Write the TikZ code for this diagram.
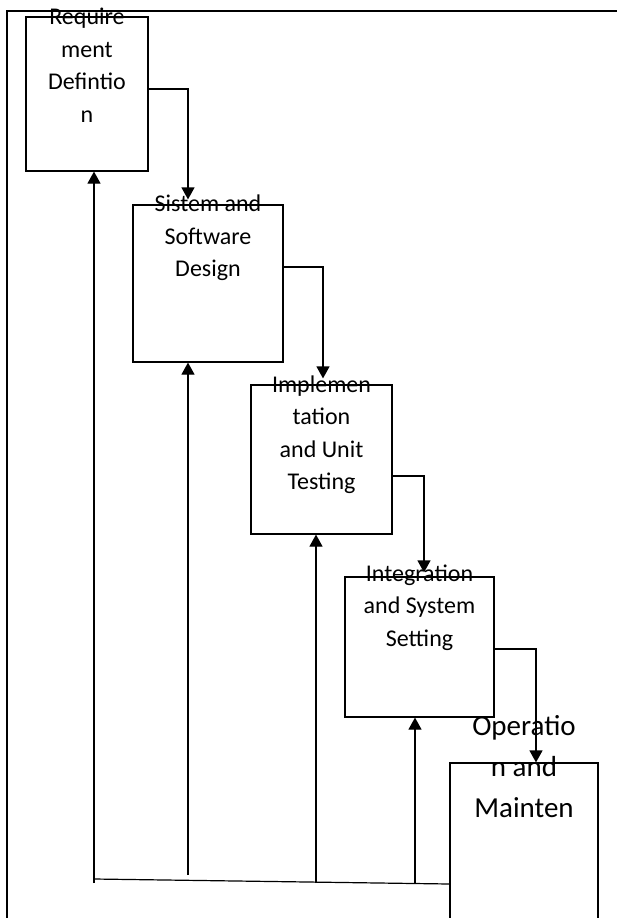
\documentclass[tikz,border=0pt]{standalone}
\usepackage{fontspec}
\setmainfont{Carlito}
\usetikzlibrary{arrows.meta,positioning,calc}

\tikzset{
  phase/.style={draw, line width=1.2pt, inner sep=0pt},
  phasetext/.style={anchor=north, align=center, inner sep=0pt,
    font=\fontsize{24}{32.5}\selectfont, execute at begin node=\strut},
  bigtext/.style={phasetext, font=\fontsize{29}{41}\selectfont},
  line/.style={line width=1.2pt},
  flow/.style={line, -{Triangle[width=13pt,length=12pt]}}
}

\begin{document}
\begin{tikzpicture}[x=1pt, y=-1pt]
    \useasboundingbox (0,0) rectangle (617,918);
    % outer frame
    \draw[line] (617,11) -- (7,11) -- (7,918);

    % phases
    \node[phase, minimum width=122pt, minimum height=154pt] (req) at (87,94) {};
    \node[phase, minimum width=150pt, minimum height=157pt] (sys) at (208,283.5) {};
    \node[phase, minimum width=141pt, minimum height=149pt] (impl) at (321.5,459.5) {};
    \node[phase, minimum width=149pt, minimum height=140pt] (integ) at (419.5,647) {};
    \node[phase, minimum width=148pt, minimum height=177pt] (ops) at (524,851.5) {};

    \node[phasetext] (reqtext) at ([yshift=8.6pt]req.north) {Require\\ment\\Defintio\\n};
    \node[phasetext] (systext) at ([yshift=9.5pt]sys.north) {Sistem and\\Software\\Design};
    \node[phasetext] (impltext) at ([yshift=9pt]impl.north) {Implemen\\tation\\and Unit\\Testing};
    \node[phasetext] (integtext) at ([yshift=12pt]integ.north) {Integration\\and System\\Setting};
    \node[bigtext] (opstext) at ([yshift=47pt]ops.north) {Operatio\\n and\\Mainten};

    % waterfall
    \draw[flow, shorten >=5pt] ([yshift=5pt]req.east) -| ([xshift=-20pt]sys.north);
    \draw[flow, shorten >=6pt] ([yshift=16.5pt]sys.east) -| ([xshift=1.5pt]impl.north);
    \draw[flow, shorten >=4pt] ([yshift=-16.5pt]impl.east) -| ([xshift=4.5pt]integ.north);
    \draw[flow] ([yshift=-2pt]integ.east) -| ([xshift=12pt]ops.north);

    % feedback
    \coordinate (back) at (94,879);
    \draw[line] ([yshift=-32.5pt]ops.west) -- (back);
    \coordinate (up1) at (94,883);
    \coordinate (up2) at (188,875);
    \coordinate (up3) at (316,883);
    \coordinate (up4) at (415,883);
    \draw[flow] (up1) -- (up1 |- req.south);
    \draw[flow] (up2) -- (up2 |- sys.south);
    \draw[flow] (up3) -- (up3 |- impl.south);
    \draw[flow] (up4) -- (up4 |- integ.south);
\end{tikzpicture}
\end{document}
